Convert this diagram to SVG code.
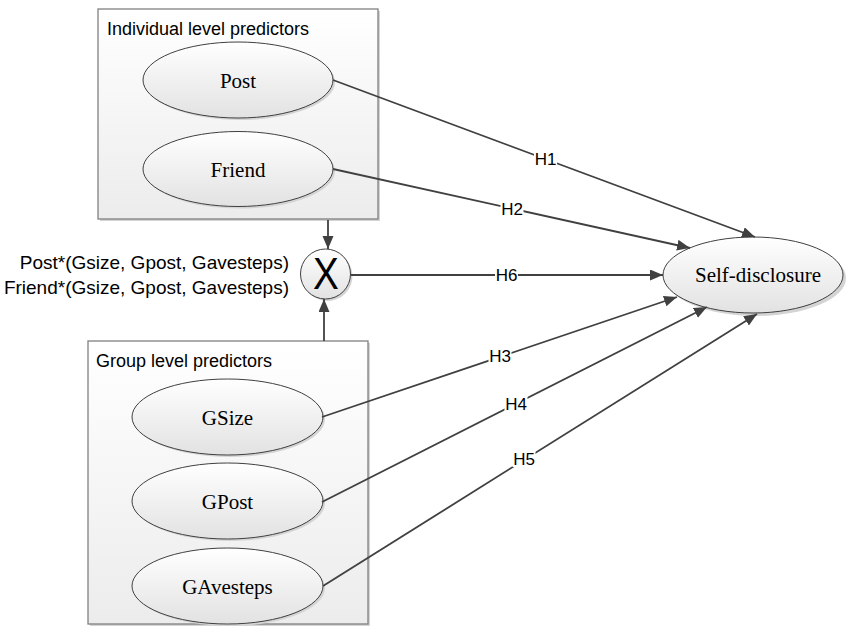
<svg xmlns="http://www.w3.org/2000/svg" width="846" height="626" viewBox="0 0 846 626">
  <defs>
    <linearGradient id="boxGrad" x1="0" y1="0" x2="0" y2="1">
      <stop offset="0" stop-color="#ffffff"/>
      <stop offset="1" stop-color="#ececec"/>
    </linearGradient>
    <linearGradient id="ellGrad" x1="0" y1="0" x2="0" y2="1">
      <stop offset="0" stop-color="#ffffff"/>
      <stop offset="1" stop-color="#e2e2e2"/>
    </linearGradient>
    <marker id="arrow" markerUnits="userSpaceOnUse" markerWidth="14" markerHeight="12" refX="13" refY="5.5" orient="auto">
      <path d="M0,0 L13,5.5 L0,11 z" fill="#404040"/>
    </marker>
    <style>
      .box { fill: url(#boxGrad); stroke: #808080; stroke-width: 1.3; }
      .shadow { fill: #d4d4d4; }
      .ell { fill: url(#ellGrad); stroke: #404040; stroke-width: 1; }
      .title { font-family: "Liberation Sans", Arial, sans-serif; font-size: 18px; fill: #000; }
      .node { font-family: "Liberation Serif", "Times New Roman", serif; font-size: 21px; fill: #000; text-anchor: middle; }
      .side { font-family: "Liberation Sans", Arial, sans-serif; font-size: 19px; fill: #000; text-anchor: end; }
      .conn { stroke: #404040; stroke-width: 1.8; fill: none; }
      .lbl { font-family: "Liberation Sans", Arial, sans-serif; font-size: 17px; fill: #000; text-anchor: middle; }
      .lblbg { fill: #ffffff; }
    </style>
  </defs>

  <!-- Individual level predictors box -->
  <g id="individual-box">
    <rect class="shadow" x="100" y="11" width="280" height="210"/>
    <rect class="box" x="98" y="9" width="280" height="210"/>
    <text class="title" x="107" y="35">Individual level predictors</text>
  </g>
  <g id="post">
    <ellipse class="shadow" cx="240" cy="82" rx="95" ry="38"/>
    <ellipse class="ell" cx="238" cy="80" rx="95" ry="38"/>
    <text class="node" x="238" y="87.5">Post</text>
  </g>
  <g id="friend">
    <ellipse class="shadow" cx="240" cy="171" rx="95" ry="37.5"/>
    <ellipse class="ell" cx="238" cy="169" rx="95" ry="37.5"/>
    <text class="node" x="238" y="176.5">Friend</text>
  </g>

  <!-- Group level predictors box -->
  <g id="group-box">
    <rect class="shadow" x="90" y="343" width="280" height="283"/>
    <rect class="box" x="88" y="341" width="280" height="283"/>
    <text class="title" x="96" y="367">Group level predictors</text>
  </g>
  <g id="gsize">
    <ellipse class="shadow" cx="229.5" cy="419" rx="95.5" ry="38"/>
    <ellipse class="ell" cx="227.5" cy="417" rx="95.5" ry="38"/>
    <text class="node" x="227.5" y="424.5">GSize</text>
  </g>
  <g id="gpost">
    <ellipse class="shadow" cx="229.5" cy="503" rx="95.5" ry="38"/>
    <ellipse class="ell" cx="227.5" cy="501" rx="95.5" ry="38"/>
    <text class="node" x="227.5" y="508.5">GPost</text>
  </g>
  <g id="gavesteps">
    <ellipse class="shadow" cx="229.5" cy="588" rx="95.5" ry="38"/>
    <ellipse class="ell" cx="227.5" cy="586" rx="95.5" ry="38"/>
    <text class="node" x="227.5" y="593.5">GAvesteps</text>
  </g>

  <!-- Interaction node -->
  <g id="interaction">
    <circle class="shadow" cx="327.5" cy="276" r="25"/>
    <circle class="ell" cx="325.5" cy="274" r="25"/>
    <text x="0" y="0" transform="translate(326,289) scale(0.86,1)" font-family="'Liberation Sans', Arial, sans-serif" font-size="45" text-anchor="middle" fill="#000">X</text>
  </g>
  <g id="interaction-label">
    <text class="side" x="289" y="269">Post*(Gsize, Gpost, Gavesteps)</text>
    <text class="side" x="289" y="294">Friend*(Gsize, Gpost, Gavesteps)</text>
  </g>

  <!-- Self-disclosure -->
  <g id="self-disclosure">
    <ellipse class="shadow" cx="756" cy="278" rx="90" ry="38"/>
    <ellipse class="ell" cx="753" cy="275" rx="90" ry="38"/>
    <text class="node" x="758" y="282">Self-disclosure</text>
  </g>

  <!-- Connectors -->
  <g id="connectors">
    <line class="conn" x1="328" y1="220" x2="328" y2="249" marker-end="url(#arrow)"/>
    <line class="conn" x1="324" y1="341" x2="324" y2="299" marker-end="url(#arrow)"/>

    <line class="conn" x1="333" y1="80" x2="755" y2="237" marker-end="url(#arrow)"/>
    <line class="conn" x1="333" y1="169" x2="690" y2="248" marker-end="url(#arrow)"/>
    <line class="conn" x1="351" y1="275" x2="663" y2="275" marker-end="url(#arrow)"/>
    <line class="conn" x1="322" y1="417" x2="677" y2="297" marker-end="url(#arrow)"/>
    <line class="conn" x1="322" y1="502" x2="707" y2="307" marker-end="url(#arrow)"/>
    <line class="conn" x1="323" y1="586" x2="757" y2="314" marker-end="url(#arrow)"/>

    <rect class="lblbg" x="534" y="151" width="23" height="16"/>
    <text class="lbl" x="545.5" y="165">H1</text>
    <rect class="lblbg" x="500.5" y="201" width="23" height="16"/>
    <text class="lbl" x="512" y="215">H2</text>
    <rect class="lblbg" x="495" y="267" width="23" height="16"/>
    <text class="lbl" x="506.5" y="281">H6</text>
    <rect class="lblbg" x="488.5" y="348" width="23" height="16"/>
    <text class="lbl" x="500" y="362">H3</text>
    <rect class="lblbg" x="504.5" y="396" width="23" height="16"/>
    <text class="lbl" x="516" y="410">H4</text>
    <rect class="lblbg" x="512.5" y="451" width="23" height="16"/>
    <text class="lbl" x="524" y="465">H5</text>
  </g>
</svg>
